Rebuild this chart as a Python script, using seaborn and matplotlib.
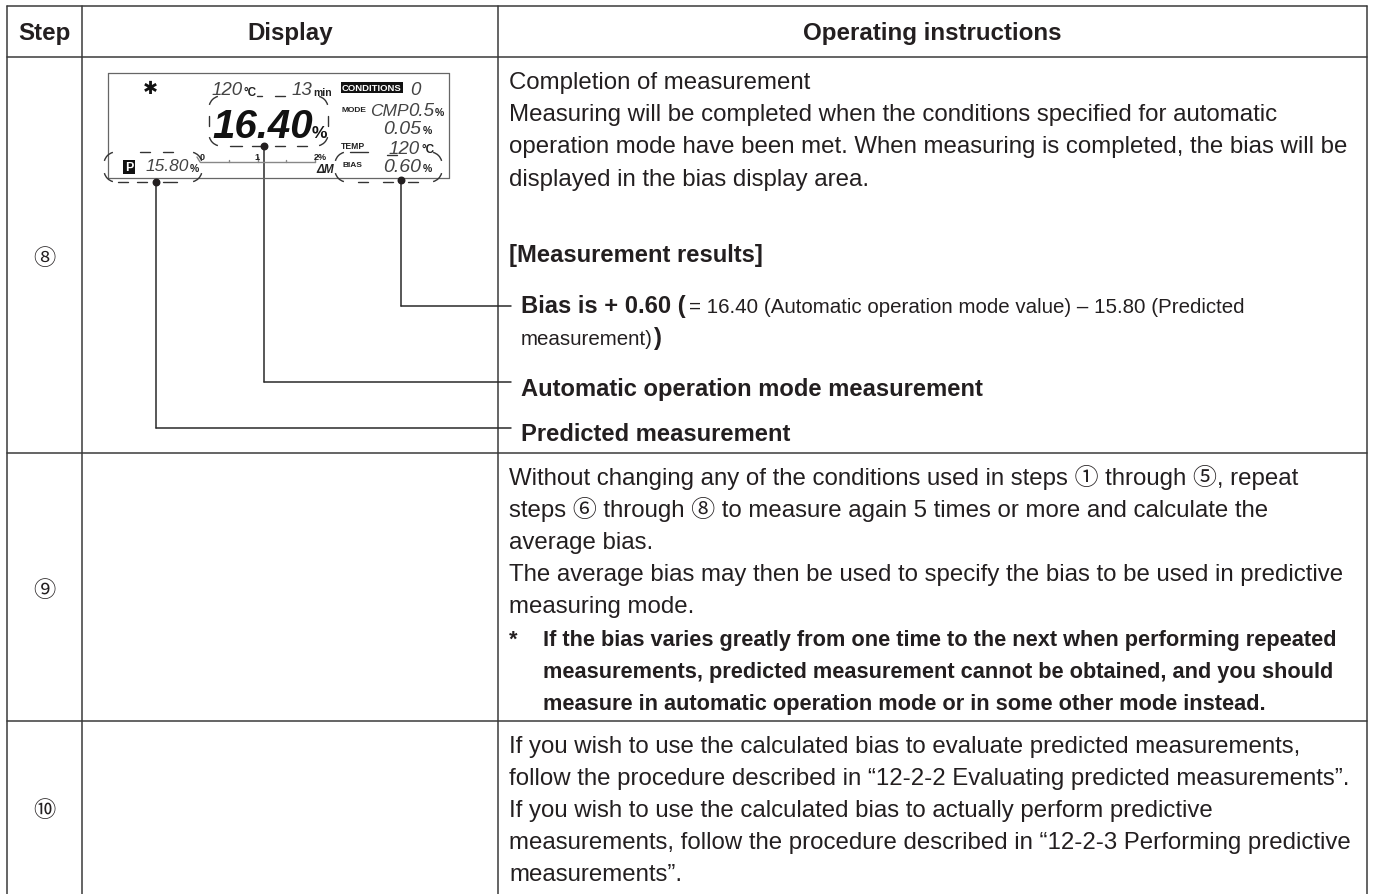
"""
Operating instructions table with the LCD display sketch.
"""

import matplotlib
matplotlib.use("Agg")
import matplotlib.pyplot as plt
from matplotlib.patches import Arc
import pandas as pd
import seaborn as sns

# ─── Content ──────────────────────────────────────────────────────────────────
HEADERS = ["Step", "Display", "Operating instructions"]
STEPS = ["⑧", "⑨", "⑩"]

ROW8_TEXT = [
    "Completion of measurement",
    "Measuring will be completed when the conditions specified for automatic",
    "operation mode have been met. When measuring is completed, the bias will be",
    "displayed in the bias display area.",
]
RESULTS_TITLE = "[Measurement results]"
BIAS_BOLD = "Bias is + 0.60 ("
BIAS_SMALL = "= 16.40 (Automatic operation mode value) – 15.80 (Predicted"
BIAS_TAIL = "measurement)"
AUTO_LABEL = "Automatic operation mode measurement"
PRED_LABEL = "Predicted measurement"

ROW9_TEXT = [
    "Without changing any of the conditions used in steps ① through ⑤, repeat",
    "steps ⑥ through ⑧ to measure again 5 times or more and calculate the",
    "average bias.",
    "The average bias may then be used to specify the bias to be used in predictive",
    "measuring mode.",
]
ROW9_NOTE = [
    "If the bias varies greatly from one time to the next when performing repeated",
    "measurements, predicted measurement cannot be obtained, and you should",
    "measure in automatic operation mode or in some other mode instead.",
]
ROW10_TEXT = [
    "If you wish to use the calculated bias to evaluate predicted measurements,",
    "follow the procedure described in “12-2-2 Evaluating predicted measurements”.",
    "If you wish to use the calculated bias to actually perform predictive",
    "measurements, follow the procedure described in “12-2-3 Performing predictive",
    "measurements”.",
]

INK = "#231f20"
RULE = "#3a3a3a"
BODY_SIZE = 17.28
LABEL_SIZE = 17.15

sns.set_theme(style="white")
plt.rcParams["font.family"] = ["Liberation Sans", "Noto Sans CJK JP", "DejaVu Sans"]

fig = plt.figure(figsize=(13.73, 8.95), dpi=100)
ax = fig.add_axes([0, 0, 1, 1])
ax.set_xlim(0, 1373)
ax.set_ylim(895, 0)


def rules_frame(segments):
    rows = []
    for i, (x0, y0, x1, y1) in enumerate(segments):
        rows.append({"rule": i, "x": x0, "y": y0})
        rows.append({"rule": i, "x": x1, "y": y1})
    return pd.DataFrame(rows)


def draw_rules(segments, color=RULE, lw=1.1):
    sns.lineplot(data=rules_frame(segments), x="x", y="y", units="rule",
                 estimator=None, sort=False, color=color, linewidth=lw,
                 legend=False, ax=ax)


def put(x, y, s, size=BODY_SIZE, weight="normal", ha="left", color=INK, **kw):
    return ax.text(x, y, s, fontsize=size, fontweight=weight, ha=ha, va="baseline",
                   color=color, **kw)


def callout_corners(x0, y0, x1, y1, r=12):
    # y axis is inverted, so angles run clockwise on screen
    for cx, cy, t0 in [(x0 + r, y0 + r, 195), (x1 - r, y0 + r, 285),
                       (x1 - r, y1 - r, 15), (x0 + r, y1 - r, 105)]:
        ax.add_patch(Arc((cx, cy), 2 * r, 2 * r, theta1=t0, theta2=t0 + 60,
                         color="#333333", lw=1.0, zorder=3))


# ─── Table grid ───────────────────────────────────────────────────────────────
draw_rules([
    (7, 7, 1367, 7), (7, 58, 1367, 58), (7, 454, 1367, 454), (7, 722, 1367, 722),
    (7, 7, 7, 895), (82, 7, 82, 895), (498, 7, 498, 895), (1367, 7, 1367, 895),
])

put(44.5, 40, HEADERS[0], size=17.4, weight="bold", ha="center")
put(290, 40, HEADERS[1], size=17.4, weight="bold", ha="center")
put(932, 40, HEADERS[2], size=17.4, weight="bold", ha="center")

for step, y in zip(STEPS, [265, 597, 817]):
    put(44.5, y, step, size=16, ha="center")

# ─── Operating instructions text ──────────────────────────────────────────────
for line, y in zip(ROW8_TEXT, [89, 121, 153, 186]):
    put(509, y, line)
put(509, 262, RESULTS_TITLE, size=LABEL_SIZE, weight="bold")

bold_part = put(521, 313, BIAS_BOLD, size=LABEL_SIZE, weight="bold")
fig.canvas.draw()
renderer = fig.canvas.get_renderer()
bbox = bold_part.get_window_extent(renderer)
put(bbox.x1 + 3, 313, BIAS_SMALL, size=14.8)
tail = put(521, 345, BIAS_TAIL, size=14.8)
bbox = tail.get_window_extent(renderer)
put(bbox.x1 + 1, 345, ")", size=LABEL_SIZE, weight="bold")
put(521, 396, AUTO_LABEL, size=LABEL_SIZE, weight="bold")
put(521, 441, PRED_LABEL, size=LABEL_SIZE, weight="bold")

for line, y in zip(ROW9_TEXT, [485, 517, 549, 581, 613]):
    put(509, y, line)
put(509, 646, "*", size=15.5, weight="bold")
for line, y in zip(ROW9_NOTE, [646, 678, 710]):
    put(543, y, line, size=15.65, weight="bold")

for line, y in zip(ROW10_TEXT, [753, 785, 817, 849, 881]):
    put(509, y, line)

# ─── Leader lines ─────────────────────────────────────────────────────────────
draw_rules([
    (401, 181, 401, 307), (401, 307, 511, 307),
    (264, 147, 264, 383), (264, 383, 511, 383),
    (156, 183, 156, 429), (156, 429, 511, 429),
], color="#2a2a2a", lw=1.1)
ax.scatter([401, 264, 156], [181, 147, 183], s=22, color=INK, zorder=4)

# ─── LCD panel ────────────────────────────────────────────────────────────────
draw_rules([(108, 74, 449, 74), (449, 74, 449, 179), (108, 179, 449, 179), (108, 74, 108, 179)],
           color="#666666", lw=0.9)
draw_rules([(200, 163, 315, 163), (200, 163, 197, 158), (258, 163, 258, 158), (315, 163, 315, 158),
            (229, 163, 229, 161), (286, 163, 286, 161)],
           color="#888888", lw=1.0)

# dashed callouts around the readings
callout_corners(209, 97, 328, 147)
callout_corners(104, 153, 202, 183)
callout_corners(335, 153, 442, 183)
draw_rules([
    (257, 97, 262, 97), (275, 97, 285, 97),
    (230, 147, 242, 147), (252, 147, 263, 147), (275, 147, 285, 147), (297, 147, 307, 147),
    (209, 117, 209, 127), (328, 117, 328, 127),
    (358, 183, 368, 183), (383, 183, 393, 183), (408, 183, 418, 183),
    (350, 153, 368, 153), (387, 156, 397, 156),
    (118, 183, 128, 183), (137, 183, 147, 183), (163, 183, 177, 183),
    (140, 153, 150, 153), (163, 153, 173, 153),
], color="#333333", lw=1.0)

put(150, 94, "✱", size=13, ha="center", color="#111111", family=["DejaVu Sans"], zorder=5)

# main reading
put(263, 138, "16.40", size=29, weight="bold", ha="center", style="italic", color="#111111")
put(319, 138, "%", size=12.5, weight="bold", ha="center", color="#111111")

LCD_READINGS = [
    (227, 95, "120", 13.5),
    (302, 95, "13", 13.5),
    (415, 95, "0", 13.5),
    (389, 116, "CMP", 12.5),
    (421, 116, "0.5", 13.5),
    (402, 134, "0.05", 14),
    (404, 154, "120", 13.5),
    (402, 172, "0.60", 14),
    (167, 171, "15.80", 12.5),
]
for x, y, s, size in LCD_READINGS:
    put(x, y, s, size=size, ha="center", style="italic", color="#444444")

LCD_LABELS = [
    (250, 96, "°C", 8.5), (323, 96, "min", 7.5), (354, 112, "MODE", 6),
    (439, 116, "%", 7.5), (427, 134, "%", 7.5), (353, 149, "TEMP", 6.2),
    (428, 153, "°C", 8.5), (352, 167, "BIAS", 6), (427, 172, "%", 7.5),
    (194, 172, "%", 7.5), (202, 160, "0", 6.5), (257, 160, "1", 6.5), (320, 160, "2%", 6.5),
]
for x, y, s, size in LCD_LABELS:
    put(x, y, s, size=size, weight="bold", ha="center", color="#222222")
put(325, 173, "ΔM", size=8.5, weight="bold", ha="center", style="italic", color="#222222")

put(372, 91, "CONDITIONS", size=6.8, weight="bold", ha="center", color="white",
    bbox=dict(fc="#111111", ec="none", pad=1.0))
put(129, 171, "P", size=9, weight="bold", ha="center", color="white",
    bbox=dict(fc="#111111", ec="none", pad=1.0))

ax.axis("off")

plt.savefig("out.png", dpi=100, facecolor="white")
plt.close(fig)
